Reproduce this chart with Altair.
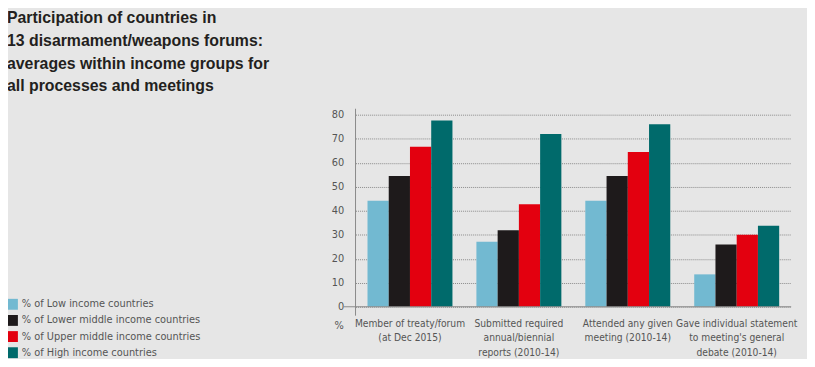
import altair as alt
import pandas as pd

# ---- data ----
categories = [
    ["Member of treaty/forum", "(at Dec 2015)"],
    ["Submitted required", "annual/biennial", "reports (2010-14)"],
    ["Attended any given", "meeting (2010-14)"],
    ["Gave individual statement", "to meeting's general", "debate (2010-14)"],
]
groups = [
    "% of Low income countries",
    "% of Lower middle income countries",
    "% of Upper middle income countries",
    "% of High income countries",
]
low_income = [44.2, 27.1, 44.2, 13.5]
lower_middle = [54.5, 31.9, 54.5, 25.9]
upper_middle = [66.7, 42.7, 64.5, 30.0]
high_income = [77.6, 72.0, 76.0, 33.8]
y_ticks = [0, 10, 20, 30, 40, 50, 60, 70, 80]
title_lines = [
    "Participation of countries in",
    "13 disarmament/weapons forums:",
    "averages within income groups for",
    "all processes and meetings",
]
colors = ["#72b9d1", "#1e1a1b", "#e3000f", "#006a6b"]

cat_keys = ["|".join(c) for c in categories]
rows = []
for series, g in zip([low_income, lower_middle, upper_middle, high_income], groups):
    for k, v in zip(cat_keys, series):
        rows.append({"cat": k, "group": g, "value": v})
df = pd.DataFrame(rows)

LABEL_FONT = "'DejaVu Sans Condensed', 'Roboto Condensed', 'Liberation Sans Narrow', 'Arial Narrow', Roboto, sans-serif"
GREY = "#555555"

bars = alt.Chart(df).mark_bar().encode(
    x=alt.X(
        "cat:N",
        sort=cat_keys,
        scale=alt.Scale(paddingInner=0.22, paddingOuter=0.11),
        axis=alt.Axis(
            title=None,
            labelExpr="split(datum.label, '|')",
            labelAngle=0,
            labelFont=LABEL_FONT,
            labelFontSize=10.3,
            labelColor=GREY,
            labelLineHeight=14.5,
            labelPadding=12,
            labelBaseline="top",
            labelLimit=0,
            ticks=False,
            domain=False,
        ),
    ),
    xOffset=alt.XOffset("group:N", sort=groups, scale=alt.Scale(paddingInner=0, paddingOuter=0)),
    y=alt.Y(
        "value:Q",
        scale=alt.Scale(domain=[0, 82.5], nice=False),
        axis=alt.Axis(
            values=y_ticks,
            title="%",
            titleAngle=0,
            titleX=-17,
            titleY=219,
            titleAlign="center",
            titleBaseline="middle",
            titleFont=LABEL_FONT,
            titleFontSize=11,
            titleFontWeight="normal",
            titleColor=GREY,
            labelFont=LABEL_FONT,
            labelFontSize=11,
            labelColor=GREY,
            labelPadding=12,
            ticks=False,
            domain=False,
            grid=True,
            gridColor="#8a8a8a",
            gridDash=[1, 1],
            gridWidth=1,
        ),
    ),
    color=alt.Color(
        "group:N",
        sort=groups,
        scale=alt.Scale(domain=groups, range=colors),
        legend=alt.Legend(
            title=None,
            orient="none",
            legendX=-352,
            legendY=192,
            symbolType="square",
            symbolSize=121,
            symbolStrokeWidth=0,
            labelFont=LABEL_FONT,
            labelFontSize=11,
            labelColor=GREY,
            labelLimit=0,
            rowPadding=4.3,
            labelOffset=4,
        ),
    ),
)

axis_src = pd.DataFrame({"v": [0]})
zero_line = alt.Chart(axis_src).mark_rule(color="#8a8a8a", strokeWidth=1).encode(
    x=alt.value(-12), x2=alt.value(440), y=alt.value(200)
)
y_line = alt.Chart(axis_src).mark_rule(color="#8a8a8a", strokeWidth=1).encode(
    x=alt.value(0), y=alt.value(0), y2=alt.value(209)
)

chart = alt.layer(bars, y_line, zero_line).properties(
    width=440,
    height=200,
    autosize=alt.AutoSizeParams(type="none"),
    padding={"left": 351, "top": 100, "right": 16, "bottom": 51},
    background="#e6e6e6",
    title=alt.TitleParams(
        text=title_lines,
        anchor="start",
        frame="group",
        font="Liberation Sans",
        fontSize=16,
        fontWeight="bold",
        color="#231f20",
        lineHeight=23,
        dx=-352,
        dy=-10,
    ),
).configure_view(stroke=None)

chart.save("out.html", embed_options={"renderer": "svg", "actions": False})
